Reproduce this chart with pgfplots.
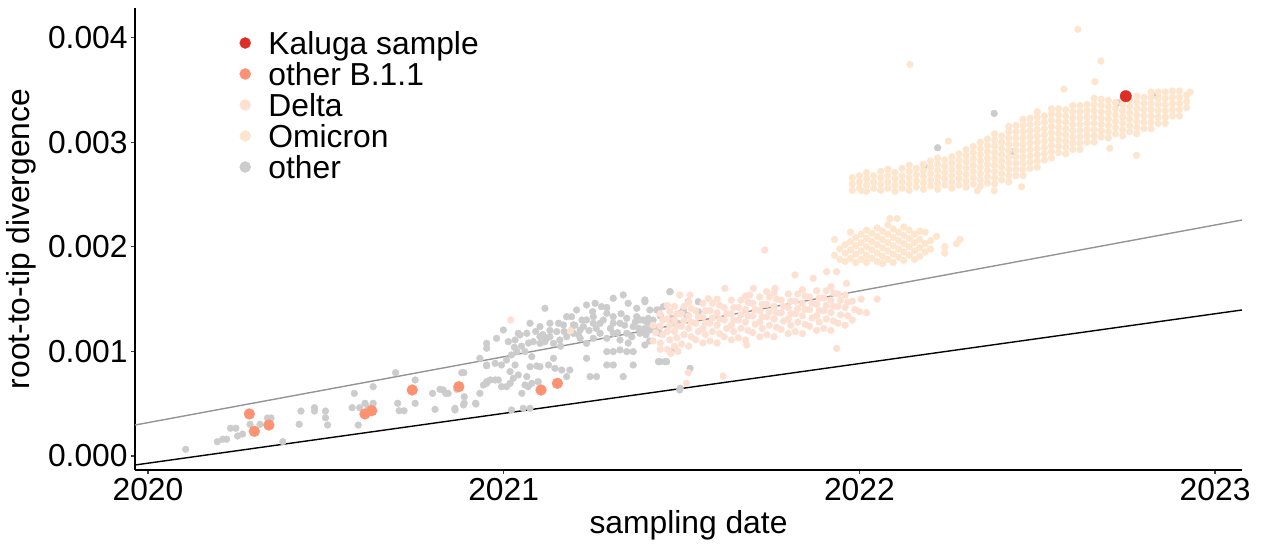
\documentclass[border=0pt]{standalone}
\usepackage{pgfplots}
\pgfplotsset{compat=1.18}
\usepackage{fontspec}
\setmainfont{Liberation Sans}
\definecolor{kaluga}{HTML}{DE2D26}
\definecolor{bone}{HTML}{FC9272}
\definecolor{delta}{HTML}{FEE0D2}
\definecolor{omicron}{HTML}{FEE6CE}
\definecolor{othergrey}{HTML}{CCCCCC}
\newcommand\cf{\fontsize{15.9}{19}\selectfont}
\begin{document}
\begin{tikzpicture}
\useasboundingbox (-67.5pt,-38pt) rectangle (563pt,235pt);
\begin{axis}[
  scale only axis, width=553.5pt, height=231pt,
  xmin=2019.9635, xmax=2023.0757,
  ymin=-0.1338e-3, ymax=4.283e-3,
  axis x line*=bottom, axis y line*=left,
  axis line style={line width=0.75pt, black},
  xtick={2020,2021,2022,2023},
  xticklabels={2020,2021,2022,2023},
  ytick={0,0.001,0.002,0.003,0.004},
  yticklabels={0.000,0.001,0.002,0.003,0.004},
  scaled y ticks=false, scaled x ticks=false,
  tick align=outside, major tick length=2pt,
  tick style={line width=0.6pt, color=black!75},
  tick label style={font=\cf},
  yticklabel style={inner sep=0pt, xshift=-1.5pt},
  xticklabel style={inner sep=0pt, yshift=-2pt},
  label style={font=\cf},
  xlabel={sampling date},
  ylabel={root-to-tip divergence},
  xlabel style={at={(axis description cs:0.5,-0.1364)}, anchor=base, inner sep=0pt},
  ylabel style={at={(axis description cs:-0.0949,0.5)}, anchor=base, inner sep=0pt},
  legend style={draw=none, fill=none, font=\cf, inner sep=0pt, outer sep=0pt,
    at={(axis description cs:0.0944,0.9487)}, anchor=north west,
    row sep=4.2pt, nodes={text height=11.3pt, text depth=0pt, inner sep=0pt},
    /tikz/every odd column/.append style={column sep=8.75pt}},
  legend cell align=left,
  every axis plot/.append style={only marks, mark=*, line width=0.2pt},
]
\addlegendimage{legend image code/.code={\fill[kaluga] (0pt,0pt) circle (2.75pt);}}
\addlegendentry{Kaluga sample}
\addlegendimage{legend image code/.code={\fill[bone] (0pt,0pt) circle (2.75pt);}}
\addlegendentry{other B.1.1}
\addlegendimage{legend image code/.code={\fill[delta] (0pt,0pt) circle (2.75pt);}}
\addlegendentry{Delta}
\addlegendimage{legend image code/.code={\fill[omicron] (0pt,0pt) circle (2.75pt);}}
\addlegendentry{Omicron}
\addlegendimage{legend image code/.code={\fill[othergrey] (0pt,0pt) circle (2.75pt);}}
\addlegendentry{other}

% other
\addplot[forget plot, color=othergrey, mark size=1.7pt] coordinates {
(2020.106,0.064e-3)(2020.195,0.137e-3)(2020.210,0.160e-3)(2020.221,0.160e-3)(2020.232,0.265e-3)
(2020.247,0.265e-3)(2020.252,0.191e-3)(2020.266,0.210e-3)(2020.287,0.303e-3)(2020.315,0.303e-3)
(2020.336,0.363e-3)(2020.346,0.363e-3)(2020.379,0.137e-3)(2020.425,0.303e-3)(2020.430,0.430e-3)
(2020.468,0.462e-3)(2020.468,0.430e-3)(2020.499,0.430e-3)(2020.499,0.366e-3)(2020.505,0.296e-3)
(2020.580,0.599e-3)(2020.574,0.462e-3)(2020.595,0.462e-3)(2020.620,0.462e-3)(2020.591,0.296e-3)
(2020.610,0.504e-3)(2020.633,0.663e-3)(2020.633,0.504e-3)(2020.696,0.797e-3)(2020.702,0.504e-3)
(2020.706,0.433e-3)(2020.720,0.433e-3)(2020.751,0.727e-3)(2020.751,0.504e-3)(2020.800,0.599e-3)
(2020.807,0.446e-3)(2020.821,0.638e-3)(2020.837,0.599e-3)(2020.863,0.440e-3)(2020.868,0.638e-3)
(2020.882,0.797e-3)(2020.889,0.567e-3)(2020.889,0.504e-3)(2020.921,0.504e-3)(2020.933,0.599e-3)
(2020.952,0.695e-3)(2020.952,0.863e-3)
(2020.830,0.631e-3)(2020.844,0.599e-3)(2020.863,0.456e-3)(2020.887,0.488e-3)(2020.888,0.797e-3)
(2020.922,0.497e-3)(2020.943,0.679e-3)(2020.952,0.711e-3)(2020.962,0.727e-3)(2020.976,0.727e-3)
(2020.985,0.727e-3)(2020.994,0.663e-3)(2021.008,0.663e-3)(2021.018,0.695e-3)(2021.027,0.743e-3)
(2021.041,0.775e-3)(2021.018,0.807e-3)(2021.032,0.870e-3)(2021.051,0.599e-3)(2021.060,0.679e-3)
(2021.069,0.663e-3)(2021.079,0.695e-3)(2021.097,0.711e-3)(2021.065,0.759e-3)(2021.074,0.854e-3)
(2021.093,0.861e-3)(2021.102,0.854e-3)(2021.126,0.870e-3)(2021.140,0.934e-3)(2021.144,0.838e-3)
(2021.163,0.822e-3)(2021.177,0.759e-3)(2021.186,0.822e-3)(2020.952,1.030e-3)(2020.933,0.934e-3)
(2020.952,0.870e-3)(2020.976,0.886e-3)(2020.994,0.870e-3)(2021.008,0.918e-3)(2021.022,0.966e-3)
(2021.037,0.998e-3)(2021.060,0.998e-3)(2021.079,0.950e-3)(2021.013,1.093e-3)(2021.032,1.109e-3)
(2021.046,1.157e-3)(2021.065,1.173e-3)(2021.083,1.093e-3)(2021.102,1.077e-3)(2021.116,1.093e-3)
(2021.130,1.141e-3)(2021.149,1.189e-3)(2021.154,1.269e-3)(2021.168,1.253e-3)(2021.177,1.332e-3)
(2021.191,1.332e-3)(2021.205,1.396e-3)(2021.233,1.444e-3)(2021.257,1.460e-3)(2021.275,1.428e-3)
(2021.308,1.508e-3)(2021.336,1.540e-3)(2021.350,1.460e-3)(2021.374,1.412e-3)(2021.397,1.492e-3)
(2021.411,1.396e-3)(2021.430,1.396e-3)(2021.468,1.571e-3)(2021.383,1.301e-3)(2021.402,1.285e-3)
(2021.411,1.205e-3)(2021.364,1.237e-3)(2021.346,1.317e-3)(2021.327,1.269e-3)(2021.308,1.332e-3)
(2021.290,1.364e-3)(2021.271,1.269e-3)(2021.252,1.269e-3)(2021.233,1.301e-3)(2021.215,1.205e-3)
(2021.196,1.173e-3)(2021.177,1.141e-3)(2021.158,1.109e-3)(2021.140,1.077e-3)(2021.121,1.125e-3)
(2021.102,1.141e-3)(2021.215,1.125e-3)(2021.233,1.077e-3)(2021.252,1.125e-3)(2021.271,1.173e-3)
(2021.290,1.125e-3)(2021.308,1.173e-3)(2021.327,1.109e-3)(2021.346,1.173e-3)(2021.383,1.173e-3)
(2021.290,0.998e-3)(2021.308,0.998e-3)(2021.327,1.014e-3)(2021.346,0.998e-3)(2021.364,0.998e-3)
(2021.290,0.870e-3)(2021.308,0.870e-3)(2021.233,0.934e-3)(2021.243,0.759e-3)(2021.261,0.759e-3)
(2021.336,0.759e-3)(2021.364,0.870e-3)(2021.439,0.902e-3)(2021.458,0.902e-3)(2021.496,0.647e-3)
(2021.074,0.456e-3)(2021.055,0.456e-3)(2021.022,0.440e-3)(2020.980,1.125e-3)(2020.952,1.077e-3)
(2020.999,1.205e-3)(2021.041,1.173e-3)(2021.074,1.269e-3)(2021.102,1.237e-3)(2021.116,1.412e-3)
(2021.130,1.269e-3)(2021.196,1.253e-3)(2021.224,1.237e-3)(2021.252,1.332e-3)(2021.308,1.269e-3)
(2021.374,1.332e-3)(2021.439,1.237e-3)(2021.477,1.301e-3)(2021.496,1.364e-3)(2021.514,1.348e-3)
(2021.200,1.250e-3)(2021.220,1.300e-3)(2021.240,1.200e-3)(2021.260,1.220e-3)(2021.280,1.300e-3)
(2021.300,1.220e-3)(2021.320,1.180e-3)(2021.340,1.250e-3)(2021.360,1.140e-3)(2021.380,1.220e-3)
(2021.400,1.160e-3)(2021.420,1.300e-3)(2021.440,1.340e-3)(2021.190,1.200e-3)(2021.210,1.160e-3)
(2021.250,1.380e-3)(2021.290,1.420e-3)(2021.330,1.360e-3)(2021.350,1.080e-3)(2021.370,1.280e-3)
(2021.410,1.100e-3)(2021.430,1.200e-3)(2021.170,1.190e-3)(2021.160,1.050e-3)(2021.130,1.200e-3)
(2021.110,1.160e-3)(2021.090,1.190e-3)(2021.070,1.080e-3)(2021.050,1.050e-3)(2021.030,1.040e-3)
(2021.397,1.475e-3)(2021.392,1.300e-3)(2021.406,1.316e-3)(2021.411,1.268e-3)(2021.397,1.220e-3)
(2021.435,1.396e-3)(2021.449,1.428e-3)(2021.467,1.571e-3)(2021.472,1.316e-3)(2021.481,1.029e-3)
(2021.491,1.268e-3)(2021.505,1.396e-3)(2021.519,1.475e-3)(2021.547,1.475e-3)(2021.547,1.380e-3)
(2021.435,0.902e-3)(2021.453,0.902e-3)(2021.524,0.838e-3)(2021.495,0.631e-3)(2021.397,1.061e-3)
(2021.439,1.173e-3)
(2022.379,3.275e-3)(2022.220,2.947e-3)(2022.182,2.775e-3)(2022.728,3.377e-3)(2022.837,3.444e-3)
(2022.433,2.909e-3)
};

% Delta
\addplot[forget plot, color=delta, mark size=1.7pt] coordinates {
(2021.020,1.301e-3)(2021.188,1.198e-3)
(2021.420,1.10e-3)(2021.427,1.18e-3)(2021.420,1.25e-3)
(2021.440,1.08e-3)(2021.447,1.16e-3)(2021.440,1.24e-3)(2021.447,1.30e-3)(2021.440,1.36e-3)
(2021.460,1.02e-3)(2021.467,1.11e-3)(2021.460,1.19e-3)(2021.467,1.25e-3)(2021.460,1.31e-3)(2021.467,1.38e-3)(2021.460,1.44e-3)
(2021.480,1.05e-3)(2021.487,1.13e-3)(2021.480,1.19e-3)(2021.487,1.24e-3)(2021.480,1.30e-3)(2021.487,1.36e-3)(2021.480,1.43e-3)
(2021.500,1.07e-3)(2021.507,1.16e-3)(2021.500,1.24e-3)(2021.507,1.29e-3)(2021.500,1.36e-3)(2021.507,1.43e-3)
(2021.520,1.05e-3)(2021.527,1.14e-3)(2021.520,1.22e-3)(2021.527,1.28e-3)(2021.520,1.34e-3)(2021.527,1.41e-3)(2021.520,1.47e-3)
(2021.540,1.11e-3)(2021.547,1.19e-3)(2021.540,1.27e-3)(2021.547,1.33e-3)(2021.540,1.39e-3)
(2021.560,1.08e-3)(2021.567,1.16e-3)(2021.560,1.22e-3)(2021.567,1.27e-3)(2021.560,1.33e-3)(2021.567,1.39e-3)(2021.560,1.46e-3)
(2021.580,1.10e-3)(2021.587,1.19e-3)(2021.580,1.27e-3)(2021.587,1.32e-3)(2021.580,1.39e-3)(2021.587,1.46e-3)
(2021.600,1.08e-3)(2021.607,1.17e-3)(2021.600,1.25e-3)(2021.607,1.31e-3)(2021.600,1.37e-3)(2021.607,1.44e-3)(2021.600,1.50e-3)
(2021.620,1.14e-3)(2021.627,1.22e-3)(2021.620,1.30e-3)(2021.627,1.36e-3)(2021.620,1.42e-3)
(2021.640,1.11e-3)(2021.647,1.19e-3)(2021.640,1.25e-3)(2021.647,1.30e-3)(2021.640,1.36e-3)(2021.647,1.42e-3)(2021.640,1.49e-3)
(2021.660,1.13e-3)(2021.667,1.22e-3)(2021.660,1.30e-3)(2021.667,1.35e-3)(2021.660,1.42e-3)(2021.667,1.49e-3)
(2021.680,1.11e-3)(2021.687,1.20e-3)(2021.680,1.28e-3)(2021.687,1.34e-3)(2021.680,1.40e-3)(2021.687,1.47e-3)(2021.680,1.53e-3)
(2021.700,1.18e-3)(2021.707,1.26e-3)(2021.700,1.34e-3)(2021.707,1.40e-3)(2021.700,1.46e-3)
(2021.720,1.14e-3)(2021.727,1.22e-3)(2021.720,1.28e-3)(2021.727,1.33e-3)(2021.720,1.39e-3)(2021.727,1.45e-3)(2021.720,1.52e-3)
(2021.740,1.16e-3)(2021.747,1.25e-3)(2021.740,1.33e-3)(2021.747,1.38e-3)(2021.740,1.45e-3)(2021.747,1.52e-3)
(2021.760,1.14e-3)(2021.767,1.23e-3)(2021.760,1.31e-3)(2021.767,1.37e-3)(2021.760,1.43e-3)(2021.767,1.50e-3)(2021.760,1.56e-3)
(2021.780,1.21e-3)(2021.787,1.29e-3)(2021.780,1.37e-3)(2021.787,1.43e-3)(2021.780,1.49e-3)
(2021.800,1.17e-3)(2021.807,1.25e-3)(2021.800,1.31e-3)(2021.807,1.36e-3)(2021.800,1.42e-3)(2021.807,1.48e-3)(2021.800,1.55e-3)
(2021.820,1.19e-3)(2021.827,1.28e-3)(2021.820,1.36e-3)(2021.827,1.41e-3)(2021.820,1.48e-3)(2021.827,1.55e-3)
(2021.840,1.17e-3)(2021.847,1.26e-3)(2021.840,1.34e-3)(2021.847,1.40e-3)(2021.840,1.46e-3)(2021.847,1.53e-3)(2021.840,1.59e-3)
(2021.860,1.24e-3)(2021.867,1.32e-3)(2021.860,1.40e-3)(2021.867,1.46e-3)(2021.860,1.52e-3)
(2021.880,1.20e-3)(2021.887,1.28e-3)(2021.880,1.34e-3)(2021.887,1.39e-3)(2021.880,1.45e-3)(2021.887,1.51e-3)(2021.880,1.58e-3)
(2021.900,1.22e-3)(2021.907,1.31e-3)(2021.900,1.39e-3)(2021.907,1.44e-3)(2021.900,1.51e-3)(2021.907,1.58e-3)
(2021.920,1.20e-3)(2021.927,1.29e-3)(2021.920,1.37e-3)(2021.927,1.43e-3)(2021.920,1.49e-3)(2021.927,1.56e-3)(2021.920,1.62e-3)
(2021.940,1.27e-3)(2021.947,1.35e-3)(2021.940,1.43e-3)(2021.947,1.49e-3)(2021.940,1.55e-3)
(2021.960,1.25e-3)(2021.967,1.34e-3)(2021.960,1.42e-3)(2021.967,1.47e-3)(2021.960,1.54e-3)
(2021.980,1.30e-3)(2021.987,1.40e-3)(2021.980,1.48e-3)
(2022.000,1.38e-3)(2022.005,1.50e-3)(2022.020,1.37e-3)(2022.050,1.50e-3)
(2021.734,1.969e-3)(2021.819,1.730e-3)(2021.870,1.698e-3)(2021.908,1.762e-3)(2021.936,1.762e-3)
(2021.964,1.651e-3)(2021.622,1.603e-3)(2021.702,1.603e-3)(2021.763,1.603e-3)(2021.524,1.539e-3)
(2021.495,1.539e-3)(2021.575,1.507e-3)(2021.692,1.539e-3)(2021.739,1.571e-3)(2021.936,1.029e-3)
(2021.617,0.765e-3)(2021.514,0.695e-3)(2021.519,0.797e-3)(2021.683,1.061e-3)
(2021.470,0.98e-3)(2021.490,1.00e-3)(2021.440,1.02e-3)
};

% Omicron
\addplot[forget plot, color=omicron, mark size=1.7pt] coordinates {
(2021.930,2.07e-3)(2021.930,1.92e-3)(2021.945,1.98e-3)(2021.945,1.88e-3)
(2021.960,2.02e-3)(2021.960,1.94e-3)(2021.960,1.86e-3)
(2021.975,2.14e-3)(2021.975,2.05e-3)(2021.975,1.97e-3)(2021.975,1.89e-3)
(2021.990,2.09e-3)(2021.990,2.01e-3)(2021.990,1.93e-3)(2021.990,1.85e-3)
(2022.005,2.12e-3)(2022.005,2.04e-3)(2022.005,1.96e-3)(2022.005,1.88e-3)
(2022.020,2.16e-3)(2022.020,2.08e-3)(2022.020,2.00e-3)(2022.020,1.92e-3)(2022.020,1.85e-3)
(2022.035,2.13e-3)(2022.035,2.05e-3)(2022.035,1.97e-3)(2022.035,1.89e-3)
(2022.050,2.18e-3)(2022.050,2.10e-3)(2022.050,2.02e-3)(2022.050,1.94e-3)(2022.050,1.86e-3)
(2022.065,2.15e-3)(2022.065,2.07e-3)(2022.065,1.99e-3)(2022.065,1.91e-3)(2022.065,1.84e-3)
(2022.080,2.21e-3)(2022.080,2.12e-3)(2022.080,2.04e-3)(2022.080,1.96e-3)(2022.080,1.88e-3)
(2022.095,2.17e-3)(2022.095,2.09e-3)(2022.095,2.01e-3)(2022.095,1.93e-3)(2022.095,1.85e-3)
(2022.110,2.14e-3)(2022.110,2.06e-3)(2022.110,1.98e-3)(2022.110,1.90e-3)
(2022.125,2.19e-3)(2022.125,2.11e-3)(2022.125,2.03e-3)(2022.125,1.95e-3)(2022.125,1.87e-3)
(2022.140,2.16e-3)(2022.140,2.08e-3)(2022.140,2.00e-3)(2022.140,1.92e-3)
(2022.155,2.12e-3)(2022.155,2.04e-3)(2022.155,1.96e-3)(2022.155,1.88e-3)
(2022.170,2.15e-3)(2022.170,2.07e-3)(2022.170,1.99e-3)(2022.170,1.91e-3)
(2022.185,2.14e-3)(2022.185,2.03e-3)(2022.185,1.95e-3)
(2022.200,2.06e-3)(2022.200,1.98e-3)(2022.217,2.10e-3)(2022.240,2.00e-3)(2022.240,1.94e-3)
(2022.273,2.03e-3)(2022.283,2.07e-3)(2022.086,2.27e-3)(2022.106,2.27e-3)
(2021.980,2.54e-3)(2021.980,2.60e-3)(2021.980,2.66e-3)
(2022.000,2.56e-3)(2022.000,2.62e-3)(2022.000,2.68e-3)
(2022.020,2.53e-3)(2022.020,2.59e-3)(2022.020,2.65e-3)(2022.020,2.71e-3)
(2022.040,2.56e-3)(2022.040,2.62e-3)(2022.040,2.68e-3)
(2022.060,2.54e-3)(2022.060,2.60e-3)(2022.060,2.66e-3)(2022.060,2.72e-3)
(2022.080,2.56e-3)(2022.080,2.62e-3)(2022.080,2.68e-3)(2022.080,2.74e-3)
(2022.100,2.53e-3)(2022.100,2.59e-3)(2022.100,2.65e-3)(2022.100,2.71e-3)
(2022.120,2.56e-3)(2022.120,2.62e-3)(2022.120,2.68e-3)(2022.120,2.75e-3)
(2022.140,2.54e-3)(2022.140,2.60e-3)(2022.140,2.66e-3)(2022.140,2.72e-3)(2022.140,2.78e-3)
(2022.160,2.57e-3)(2022.160,2.63e-3)(2022.160,2.69e-3)(2022.160,2.75e-3)
(2022.180,2.55e-3)(2022.180,2.61e-3)(2022.180,2.67e-3)(2022.180,2.73e-3)(2022.180,2.79e-3)
(2022.200,2.58e-3)(2022.200,2.64e-3)(2022.200,2.70e-3)(2022.200,2.76e-3)(2022.200,2.82e-3)
(2022.220,2.55e-3)(2022.220,2.61e-3)(2022.220,2.67e-3)(2022.220,2.73e-3)(2022.220,2.79e-3)(2022.220,2.85e-3)
(2022.240,2.59e-3)(2022.240,2.65e-3)(2022.240,2.71e-3)(2022.240,2.77e-3)(2022.240,2.83e-3)
(2022.260,2.56e-3)(2022.260,2.62e-3)(2022.260,2.68e-3)(2022.260,2.74e-3)(2022.260,2.80e-3)(2022.260,2.86e-3)
(2022.280,2.59e-3)(2022.280,2.65e-3)(2022.280,2.71e-3)(2022.280,2.77e-3)(2022.280,2.83e-3)(2022.280,2.89e-3)
(2022.300,2.57e-3)(2022.300,2.63e-3)(2022.300,2.69e-3)(2022.300,2.75e-3)(2022.300,2.81e-3)(2022.300,2.87e-3)(2022.300,2.93e-3)
(2022.320,2.60e-3)(2022.320,2.66e-3)(2022.320,2.72e-3)(2022.320,2.78e-3)(2022.320,2.84e-3)(2022.320,2.90e-3)(2022.320,2.96e-3)
(2022.340,2.58e-3)(2022.340,2.64e-3)(2022.340,2.70e-3)(2022.340,2.76e-3)(2022.340,2.82e-3)(2022.340,2.88e-3)(2022.340,2.94e-3)(2022.340,3.00e-3)
(2022.360,2.61e-3)(2022.360,2.67e-3)(2022.360,2.73e-3)(2022.360,2.79e-3)(2022.360,2.85e-3)(2022.360,2.91e-3)(2022.360,2.97e-3)(2022.360,3.03e-3)
(2022.380,2.60e-3)(2022.380,2.66e-3)(2022.380,2.72e-3)(2022.380,2.78e-3)(2022.380,2.84e-3)(2022.380,2.90e-3)(2022.380,2.96e-3)(2022.380,3.02e-3)(2022.380,3.08e-3)
(2022.400,2.64e-3)(2022.400,2.70e-3)(2022.400,2.76e-3)(2022.400,2.82e-3)(2022.400,2.88e-3)(2022.400,2.94e-3)(2022.400,3.00e-3)(2022.400,3.06e-3)
(2022.420,2.62e-3)(2022.420,2.68e-3)(2022.420,2.74e-3)(2022.420,2.80e-3)(2022.420,2.86e-3)(2022.420,2.92e-3)(2022.420,2.98e-3)(2022.420,3.04e-3)(2022.420,3.10e-3)(2022.420,3.15e-3)
(2022.440,2.68e-3)(2022.440,2.74e-3)(2022.440,2.80e-3)(2022.440,2.86e-3)(2022.440,2.92e-3)(2022.440,2.98e-3)(2022.440,3.04e-3)(2022.440,3.10e-3)(2022.440,3.16e-3)
(2022.460,2.68e-3)(2022.460,2.74e-3)(2022.460,2.80e-3)(2022.460,2.86e-3)(2022.460,2.92e-3)(2022.460,2.98e-3)(2022.460,3.04e-3)(2022.460,3.10e-3)(2022.460,3.16e-3)(2022.460,3.22e-3)
(2022.480,2.75e-3)(2022.480,2.81e-3)(2022.480,2.87e-3)(2022.480,2.93e-3)(2022.480,2.99e-3)(2022.480,3.05e-3)(2022.480,3.11e-3)(2022.480,3.17e-3)(2022.480,3.23e-3)
(2022.500,2.76e-3)(2022.500,2.82e-3)(2022.500,2.88e-3)(2022.500,2.94e-3)(2022.500,3.00e-3)(2022.500,3.06e-3)(2022.500,3.12e-3)(2022.500,3.18e-3)(2022.500,3.24e-3)(2022.500,3.29e-3)
(2022.520,2.83e-3)(2022.520,2.89e-3)(2022.520,2.95e-3)(2022.520,3.01e-3)(2022.520,3.07e-3)(2022.520,3.13e-3)(2022.520,3.19e-3)(2022.520,3.25e-3)
(2022.540,2.85e-3)(2022.540,2.91e-3)(2022.540,2.97e-3)(2022.540,3.03e-3)(2022.540,3.09e-3)(2022.540,3.15e-3)(2022.540,3.21e-3)(2022.540,3.27e-3)(2022.540,3.32e-3)
(2022.560,2.90e-3)(2022.560,2.96e-3)(2022.560,3.02e-3)(2022.560,3.08e-3)(2022.560,3.14e-3)(2022.560,3.20e-3)(2022.560,3.26e-3)(2022.560,3.32e-3)
(2022.580,2.89e-3)(2022.580,2.95e-3)(2022.580,3.01e-3)(2022.580,3.07e-3)(2022.580,3.13e-3)(2022.580,3.19e-3)(2022.580,3.25e-3)(2022.580,3.31e-3)
(2022.600,2.93e-3)(2022.600,2.99e-3)(2022.600,3.05e-3)(2022.600,3.11e-3)(2022.600,3.17e-3)(2022.600,3.23e-3)(2022.600,3.29e-3)(2022.600,3.35e-3)
(2022.620,2.93e-3)(2022.620,2.99e-3)(2022.620,3.05e-3)(2022.620,3.11e-3)(2022.620,3.17e-3)(2022.620,3.23e-3)(2022.620,3.29e-3)(2022.620,3.35e-3)
(2022.640,3.00e-3)(2022.640,3.06e-3)(2022.640,3.12e-3)(2022.640,3.18e-3)(2022.640,3.24e-3)(2022.640,3.30e-3)(2022.640,3.36e-3)
(2022.660,3.00e-3)(2022.660,3.06e-3)(2022.660,3.12e-3)(2022.660,3.18e-3)(2022.660,3.24e-3)(2022.660,3.30e-3)(2022.660,3.36e-3)(2022.660,3.42e-3)
(2022.680,3.05e-3)(2022.680,3.11e-3)(2022.680,3.17e-3)(2022.680,3.23e-3)(2022.680,3.29e-3)(2022.680,3.35e-3)(2022.680,3.41e-3)
(2022.700,3.04e-3)(2022.700,3.10e-3)(2022.700,3.16e-3)(2022.700,3.22e-3)(2022.700,3.28e-3)(2022.700,3.34e-3)(2022.700,3.40e-3)
(2022.720,3.08e-3)(2022.720,3.14e-3)(2022.720,3.20e-3)(2022.720,3.26e-3)(2022.720,3.32e-3)(2022.720,3.38e-3)
(2022.740,3.06e-3)(2022.740,3.12e-3)(2022.740,3.18e-3)(2022.740,3.24e-3)(2022.740,3.30e-3)(2022.740,3.36e-3)(2022.740,3.42e-3)
(2022.760,3.10e-3)(2022.760,3.16e-3)(2022.760,3.22e-3)(2022.760,3.28e-3)(2022.760,3.34e-3)(2022.760,3.40e-3)
(2022.780,3.08e-3)(2022.780,3.14e-3)(2022.780,3.20e-3)(2022.780,3.26e-3)(2022.780,3.32e-3)(2022.780,3.38e-3)(2022.780,3.44e-3)
(2022.800,3.13e-3)(2022.800,3.19e-3)(2022.800,3.25e-3)(2022.800,3.31e-3)(2022.800,3.37e-3)(2022.800,3.43e-3)
(2022.820,3.13e-3)(2022.820,3.19e-3)(2022.820,3.25e-3)(2022.820,3.31e-3)(2022.820,3.37e-3)(2022.820,3.43e-3)(2022.820,3.48e-3)
(2022.840,3.18e-3)(2022.840,3.24e-3)(2022.840,3.30e-3)(2022.840,3.36e-3)(2022.840,3.42e-3)(2022.840,3.48e-3)
(2022.860,3.18e-3)(2022.860,3.24e-3)(2022.860,3.30e-3)(2022.860,3.36e-3)(2022.860,3.42e-3)(2022.860,3.48e-3)
(2022.880,3.25e-3)(2022.880,3.31e-3)(2022.880,3.37e-3)(2022.880,3.43e-3)(2022.880,3.49e-3)
(2022.900,3.25e-3)(2022.900,3.31e-3)(2022.900,3.37e-3)(2022.900,3.43e-3)(2022.900,3.49e-3)
(2022.920,3.33e-3)(2022.920,3.39e-3)(2022.920,3.45e-3)(2022.930,3.48e-3)
(2022.614,4.079e-3)(2022.142,3.744e-3)(2022.679,3.776e-3)(2022.662,3.578e-3)(2022.575,3.508e-3)
(2022.250,3.011e-3)(2022.779,2.874e-3)(2022.704,2.941e-3)(2022.456,2.574e-3)(2022.379,2.536e-3)
(2022.332,2.536e-3)(2022.006,2.536e-3)
};

% root-to-tip regression lines
\addplot[forget plot, no marks, sharp plot, black, line width=0.7pt] coordinates {(2019.9635,-0.086e-3) (2023.0757,1.396e-3)};
\addplot[forget plot, no marks, sharp plot, black!42, line width=0.7pt] coordinates {(2019.9635,0.296e-3) (2023.0757,2.256e-3)};

% other B.1.1
\addplot[forget plot, color=bone, mark size=2.7pt] coordinates {
(2020.285,0.402e-3)(2020.299,0.236e-3)(2020.340,0.296e-3)(2020.610,0.402e-3)(2020.629,0.433e-3)
(2020.743,0.631e-3)(2020.874,0.663e-3)(2021.105,0.631e-3)(2021.151,0.695e-3)
};
% Kaluga sample
\addplot[forget plot, color=kaluga, mark size=2.85pt] coordinates {(2022.749,3.440e-3)};
\end{axis}
\end{tikzpicture}
\end{document}
